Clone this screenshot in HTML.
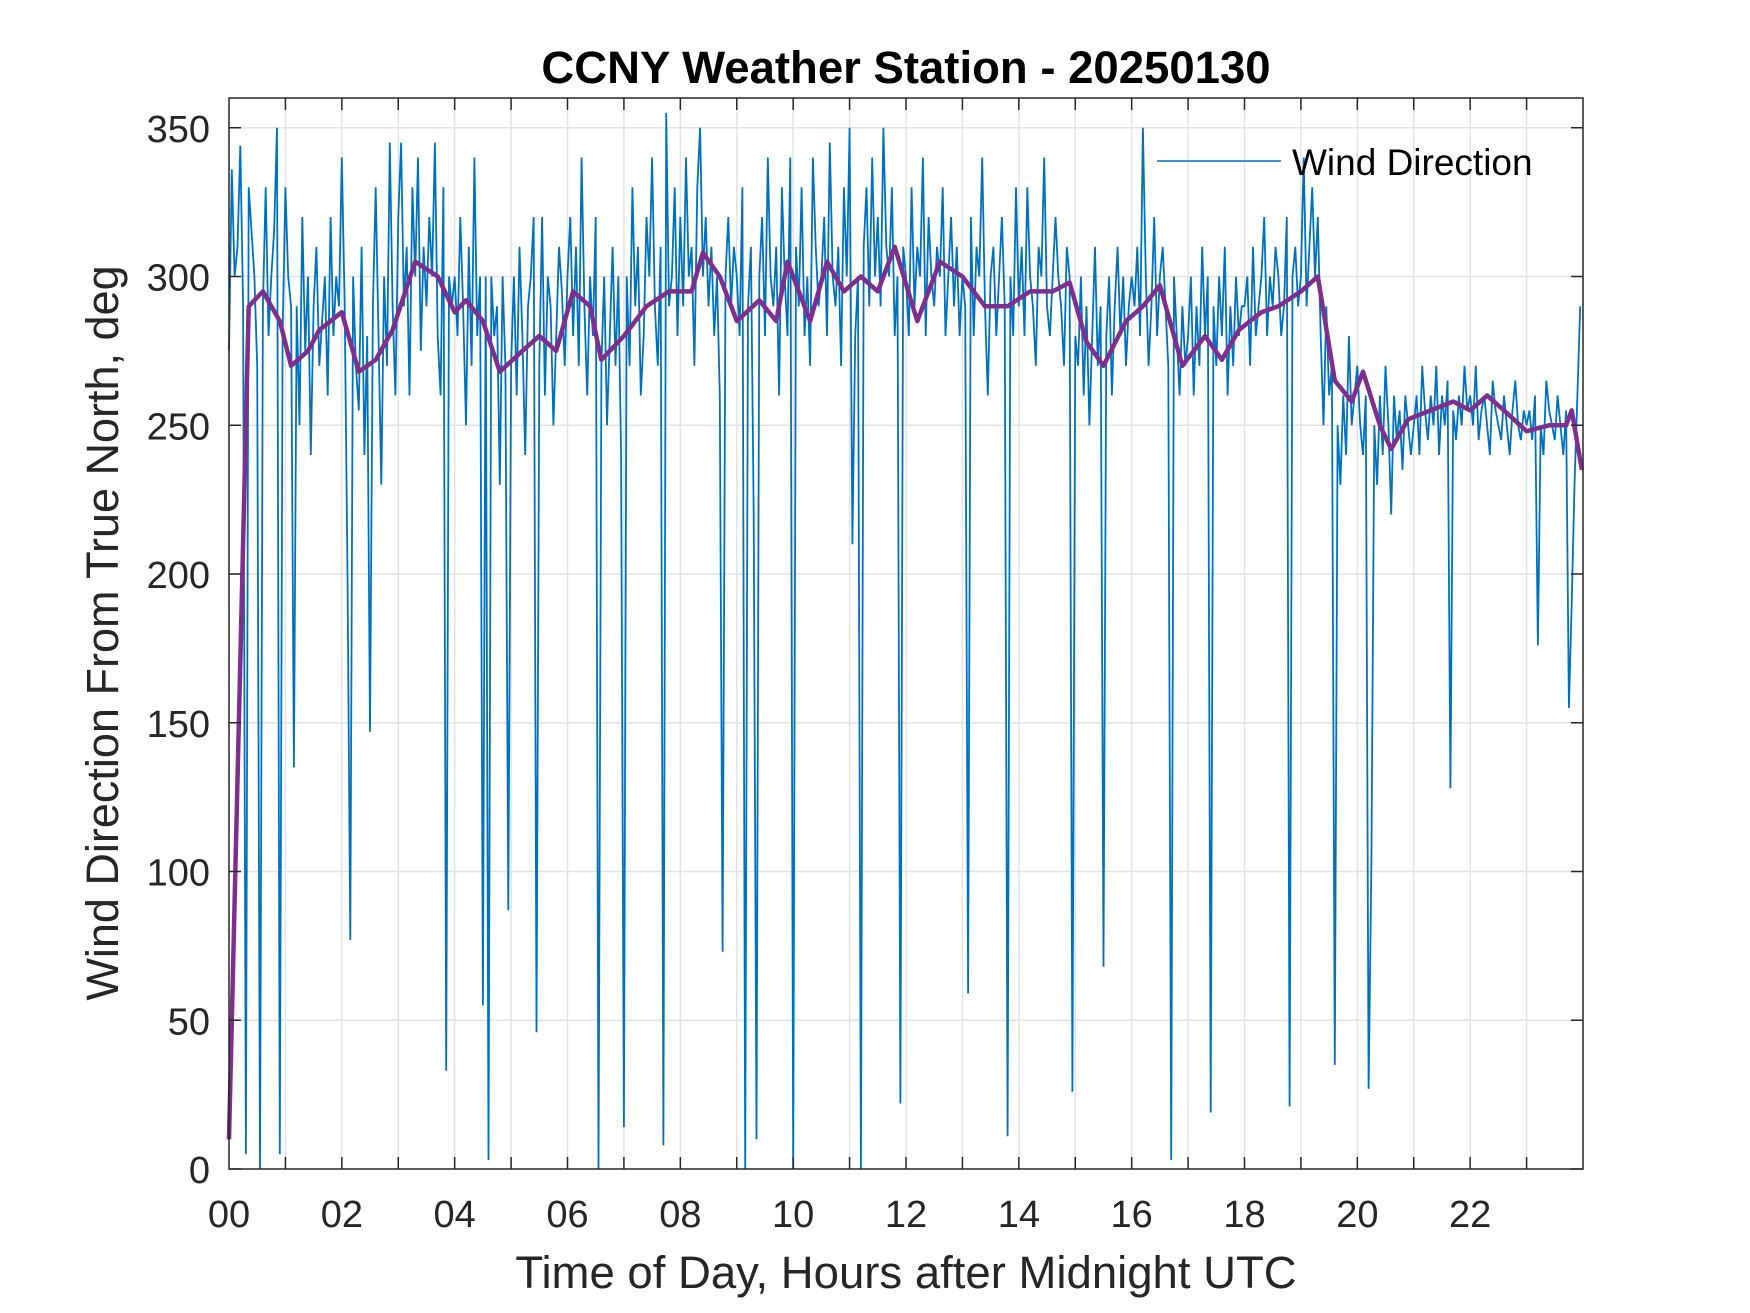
<!DOCTYPE html>
<html><head><meta charset="utf-8"><style>
html,body{margin:0;padding:0;background:#fff;}
svg{display:block;font-family:"Liberation Sans",Arial,sans-serif;}
</style></head><body>
<svg id="chart" width="1750" height="1313" viewBox="0 0 1750 1313">
<rect width="1750" height="1313" fill="#fff"/>
<g id="grid"></g>
<g id="series"></g>
<rect x="229" y="98" width="1354" height="1071" fill="none" stroke="#262626" stroke-width="1.5"/>
<g id="ticks"></g>
<text x="906" y="83" text-anchor="middle" font-size="45.5" font-weight="bold" fill="#000">CCNY Weather Station - 20250130</text>
<text x="906" y="1288" text-anchor="middle" font-size="45.5" fill="#262626">Time of Day, Hours after Midnight UTC</text>
<text transform="translate(118,633) rotate(-90)" text-anchor="middle" font-size="45" fill="#262626">Wind Direction From True North, deg</text>
<g>
<line x1="1157" y1="161" x2="1281" y2="161" stroke="#0072BD" stroke-width="1.5"/>
<text x="1292" y="175" font-size="37" fill="#000">Wind Direction</text>
</g>
</svg>
<script>
const yTicks=[0,50,100,150,200,250,300,350];
const xTickLabels=["00","02","04","06","08","10","12","14","16","18","20","22"];
const windDir=[
275,336,300,310,344,290,5,330,315,300,270,0,290,330,280,300,315,350,5,280,
330,300,290,135,290,250,320,275,300,240,290,310,270,285,300,260,320,280,300,290,
340,290,200,77,300,270,255,310,240,280,147,290,330,280,230,300,270,345,290,260,
320,345,290,310,260,330,300,340,275,310,290,320,300,345,280,260,330,33,300,290,
300,280,320,290,250,310,270,340,280,300,55,300,3,300,280,290,230,300,270,87,
270,300,260,310,280,240,290,300,320,46,270,320,260,300,290,250,280,310,295,270,
300,320,280,310,270,340,290,260,300,280,320,0,270,300,250,280,310,270,300,240,
14,300,270,330,290,310,260,280,320,300,340,290,270,310,8,355,290,300,330,280,
320,290,340,300,310,270,330,350,300,320,290,310,280,300,260,73,300,320,290,310,
300,280,330,0,290,310,220,10,300,320,280,340,300,290,310,260,330,300,280,340,
0,310,290,330,280,300,270,340,310,290,300,320,280,345,300,290,310,270,330,300,
350,210,280,300,0,310,330,290,340,300,320,290,350,310,300,330,280,300,22,310,
300,280,330,290,310,300,340,280,320,300,290,310,300,330,280,300,320,290,310,280,
300,290,59,320,280,310,300,340,290,260,300,310,280,300,320,290,11,300,280,330,
290,310,280,330,300,290,270,310,300,340,290,280,300,320,300,290,270,310,300,26,
280,270,300,260,290,250,280,310,270,290,68,280,300,260,290,310,280,300,270,290,
300,290,310,280,350,300,270,290,320,280,300,310,290,270,3,300,280,260,290,270,
280,300,260,290,270,310,280,300,19,290,270,300,280,310,260,290,270,300,280,290,
290,300,270,310,280,290,300,320,280,300,290,310,300,280,290,320,21,300,310,290,
300,340,290,310,330,300,320,280,250,290,260,270,35,250,230,260,240,280,250,260,
270,250,240,260,27,103,250,230,260,240,270,250,220,260,245,255,235,260,250,240,
250,260,240,270,255,245,260,250,270,240,260,250,265,128,255,245,260,250,270,255,
260,250,270,245,255,260,250,240,265,255,250,245,260,250,240,255,265,250,245,255,
250,255,245,260,176,250,240,265,255,250,245,260,250,240,255,155,190,230,260,290];
const avgTimes=[0,0.35,0.6,0.9,1.1,1.4,1.6,2.0,2.3,2.6,2.9,3.3,3.7,4.0,4.2,4.5,4.8,5.2,5.5,5.8,6.1,6.4,6.6,7.0,7.4,7.8,8.2,8.4,8.7,9.0,9.4,9.7,9.9,10.3,10.6,10.9,11.2,11.5,11.8,12.2,12.6,13.0,13.4,13.8,14.2,14.6,14.9,15.2,15.5,15.9,16.2,16.5,16.9,17.3,17.6,17.9,18.3,18.6,19.0,19.3,19.6,19.9,20.1,20.4,20.6,20.9,21.3,21.7,22.0,22.3,22.6,23.0,23.4,23.7,23.8,23.98];
const avgVals=[10,290,295,285,270,275,282,288,268,272,282,305,300,288,292,285,268,275,280,275,295,290,272,280,290,295,295,308,300,285,292,285,305,285,305,295,300,295,310,285,305,300,290,290,295,295,298,278,270,285,290,297,270,280,272,282,288,290,295,300,265,258,268,250,242,252,255,258,255,260,255,248,250,250,255,235];

const NS="http://www.w3.org/2000/svg";
const X0=229,X1=1583,Y0=1169,Y1=98;
const xs=h=>X0+(h/24)*(X1-X0);
const ys=v=>Y0-(v/360)*(Y0-Y1);
function mk(tag,attrs,parent){const e=document.createElementNS(NS,tag);for(const k in attrs)e.setAttribute(k,attrs[k]);parent.appendChild(e);return e;}
const grid=document.getElementById('grid'),ticks=document.getElementById('ticks'),series=document.getElementById('series');
for(let h=1;h<24;h++){
  const g=mk('line',{x1:xs(h),x2:xs(h),y1:Y1,y2:Y0,stroke:'#e3e3e3','stroke-width':1.5},grid);
  
  
  const t1=mk('line',{x1:xs(h),x2:xs(h),y1:Y0,y2:Y0-12,stroke:'#262626','stroke-width':1.5},ticks);
  
  
  const t2=mk('line',{x1:xs(h),x2:xs(h),y1:Y1,y2:Y1+12,stroke:'#262626','stroke-width':1.5},ticks);
  
  
}
xTickLabels.forEach((lab,i)=>{
  const t=mk('text',{x:xs(i*2),y:1227,'text-anchor':'middle','font-size':38,fill:'#262626'},ticks);
  t.textContent=lab;
  
  
});
yTicks.forEach(v=>{
  if(v>0){
    const g=mk('line',{x1:X0,x2:X1,y1:ys(v),y2:ys(v),stroke:'#e3e3e3','stroke-width':1.5},grid);
    
    
  }
  const t1=mk('line',{x1:X0,x2:X0+12,y1:ys(v),y2:ys(v),stroke:'#262626','stroke-width':1.5},ticks);
  
  
  const t2=mk('line',{x1:X1,x2:X1-12,y1:ys(v),y2:ys(v),stroke:'#262626','stroke-width':1.5},ticks);
  
  
  const t=mk('text',{x:210,y:ys(v)+14,'text-anchor':'end','font-size':38,fill:'#262626'},ticks);
  t.textContent=v;
  
  
});
const step=24/windDir.length;
const bp=windDir.map((v,i)=>xs(i*step).toFixed(1)+','+ys(v).toFixed(1)).join(' ');
const bl=mk('polyline',{points:bp,fill:'none',stroke:'#0072BD','stroke-width':1.8,'stroke-linejoin':'miter'},series);


const pp=avgVals.map((v,i)=>xs(avgTimes[i]).toFixed(1)+','+ys(v).toFixed(1)).join(' ');
const pl=mk('polyline',{points:pp,fill:'none',stroke:'#7E2F8E','stroke-width':4.5,'stroke-linejoin':'round'},series);


</script>
</body></html>
